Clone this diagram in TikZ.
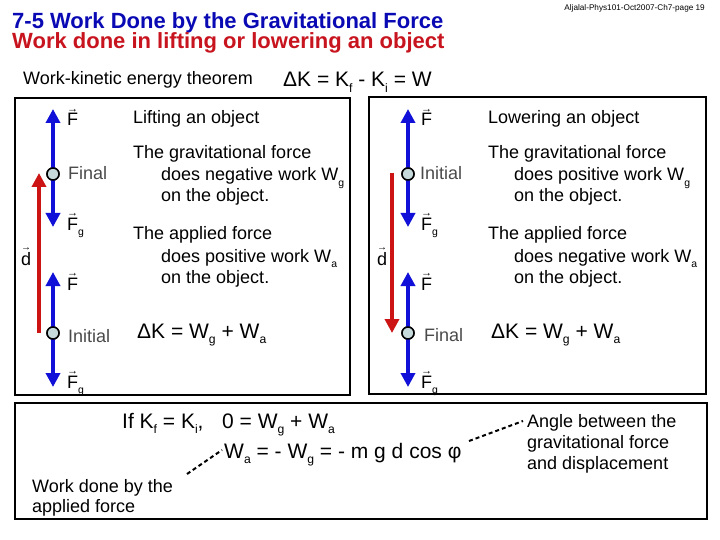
\documentclass[tikz,border=0pt]{standalone}
\usepackage{fontspec}
\setmainfont{Liberation Sans}
\usetikzlibrary{arrows.meta}
\definecolor{vblue}{HTML}{1010D8}
\definecolor{tblue}{HTML}{0A0AB4}
\definecolor{tred}{HTML}{C8141E}
\definecolor{vred}{HTML}{CC1414}
\definecolor{dotfill}{HTML}{C6DADC}
\definecolor{lblgray}{HTML}{4A4A4A}
\newcommand\fsz[1]{\fontsize{#1}{#1}\selectfont}
\newcommand\sbs[1]{\raisebox{-0.28em}{\scalebox{0.58}{#1}}}
\newsavebox\vlabbox
\newcommand\vlab[1]{\sbox\vlabbox{#1}\leavevmode\rlap{\raisebox{\dimexpr\ht\vlabbox+1.5pt\relax}{\resizebox{\wd\vlabbox}{!}{→}}}\usebox\vlabbox}
\begin{document}
\begin{tikzpicture}[x=1pt,y=-1pt,
  txt/.style={anchor=base west,inner sep=0pt,font=\fsz{18}},
  eq/.style={anchor=base west,inner sep=0pt,font=\fsz{21}},
  glbl/.style={anchor=base west,inner sep=0pt,font=\fsz{18},text=lblgray},
  force/.style={draw=vblue,line width=4pt,-{Triangle[width=14pt,length=14pt]}},
  disp/.style={draw=vred,line width=4pt,-{Triangle[width=14pt,length=14pt]}},
  dotnode/.style={circle,draw=black,line width=1.5pt,fill=dotfill,minimum size=12pt,inner sep=0pt},
  panel/.style={draw=black,line width=2.5pt},
  lead/.style={line width=2pt,dash pattern=on 4pt off 3pt}
]
\useasboundingbox (0,0) rectangle (720,540);
\fill[white] (0,0) rectangle (720,540);

% header
\node[anchor=base east,inner sep=0pt,font=\fsz{8.2}] (hdr) at (705,10.5) {Aljalal-Phys101-Oct2007-Ch7-page 19};
\node[anchor=base west,inner sep=0pt,font=\fsz{22}\bfseries,text=tblue] (t1) at (12,29) {7-5 Work Done by the Gravitational Force};
\node[anchor=base west,inner sep=0pt,font=\fsz{22}\bfseries,text=tred] (t2) at (12,49) {Work done in lifting or lowering an object};
\node[txt] (wke) at (23,85) {Work-kinetic energy theorem};
\node[eq] (wkeq) at (283,87) {ΔK = K\sbs{f} - K\sbs{i} = W};

% panels
\draw[panel] (15,98) rectangle (350,395);
\draw[panel] (369,97) rectangle (706,394);
\draw[panel] (15,403) rectangle (707,519);

% ---- left panel: lifting
\node[dotnode] (lfin) at (53,174) {};
\node[dotnode] (lini) at (53,333) {};
\coordinate (lF1) at (53,109);
\coordinate (lG1) at (53,227);
\coordinate (lF2) at (53,272);
\coordinate (lG2) at (53,387);
\coordinate (ldA) at (39,333);
\coordinate (ldB) at (39,173);
\draw[force] (lfin.center) -- (lF1);
\draw[force] (lfin.center) -- (lG1);
\draw[force] (lini.center) -- (lF2);
\draw[force] (lini.center) -- (lG2);
\draw[disp] (ldA) -- (ldB);
\node[dotnode] at (lfin) {};
\node[dotnode] at (lini) {};
\node[txt] (lFa) at (67,126) {\vlab{F}};
\node[glbl] (lfinl) at (68,180) {Final};
\node[txt] (lFga) at (67,230) {\vlab{F}\sbs{g}};
\node[txt] (ld) at (21,265) {\vlab{d}};
\node[txt] (lFb) at (67,290) {\vlab{F}};
\node[glbl] (linil) at (68,342) {Initial};
\node[txt] (lFgb) at (67,388) {\vlab{F}\sbs{g}};

\node[txt] (l1) at (133,124) {Lifting an object};
\node[txt] (l2) at (133,159) {The gravitational force};
\node[txt] (l3) at (161,181) {does negative work W\sbs{g}};
\node[txt] (l4) at (161,202) {on the object.};
\node[txt] (l5) at (133,240) {The applied force};
\node[txt] (l6) at (161,262) {does positive work W\sbs{a}};
\node[txt] (l7) at (161,283) {on the object.};
\node[eq] (l8) at (137,338) {ΔK = W\sbs{g} + W\sbs{a}};

% ---- right panel: lowering
\node[dotnode] (rini) at (408,174) {};
\node[dotnode] (rfin) at (408,333) {};
\coordinate (rF1) at (408,109);
\coordinate (rG1) at (408,227);
\coordinate (rF2) at (408,272);
\coordinate (rG2) at (408,387);
\coordinate (rdA) at (392,173);
\coordinate (rdB) at (392,333);
\draw[force] (rini.center) -- (rF1);
\draw[force] (rini.center) -- (rG1);
\draw[force] (rfin.center) -- (rF2);
\draw[force] (rfin.center) -- (rG2);
\draw[disp] (rdA) -- (rdB);
\node[dotnode] at (rini) {};
\node[dotnode] at (rfin) {};
\node[txt] (rFa) at (421,126) {\vlab{F}};
\node[glbl] (rinil) at (420,180) {Initial};
\node[txt] (rFga) at (421,230) {\vlab{F}\sbs{g}};
\node[txt] (rd) at (377,265) {\vlab{d}};
\node[txt] (rFb) at (421,290) {\vlab{F}};
\node[glbl] (rfinl) at (424,341) {Final};
\node[txt] (rFgb) at (421,388) {\vlab{F}\sbs{g}};

\node[txt] (r1) at (488,124) {Lowering an object};
\node[txt] (r2) at (488,159) {The gravitational force};
\node[txt] (r3) at (514,181) {does positive work W\sbs{g}};
\node[txt] (r4) at (514,202) {on the object.};
\node[txt] (r5) at (488,240) {The applied force};
\node[txt] (r6) at (514,262) {does negative work W\sbs{a}};
\node[txt] (r7) at (514,283) {on the object.};
\node[eq] (r8) at (491,338) {ΔK = W\sbs{g} + W\sbs{a}};

% ---- bottom panel
\node[eq] (b1) at (122,428) {If K\sbs{f} = K\sbs{i},};
\node[eq] (b2) at (222,428) {0 = W\sbs{g} + W\sbs{a}};
\node[eq] (b3) at (224,458) {W\sbs{a} = - W\sbs{g} = - m g d cos φ};
\node[txt] (b4) at (32,492) {Work done by the};
\node[txt] (b5) at (32,512) {applied force};
\node[txt] (b6) at (527,427) {Angle between the};
\node[txt] (b7) at (527,448) {gravitational force};
\node[txt] (b8) at (527,469) {and displacement};
\coordinate (c1) at (187,474);
\coordinate (c2) at (222,450);
\coordinate (c3) at (469,441);
\coordinate (c4) at (523,421);
\draw[lead] (c1) -- (c2);
\draw[lead] (c3) -- (c4);
\end{tikzpicture}
\end{document}
